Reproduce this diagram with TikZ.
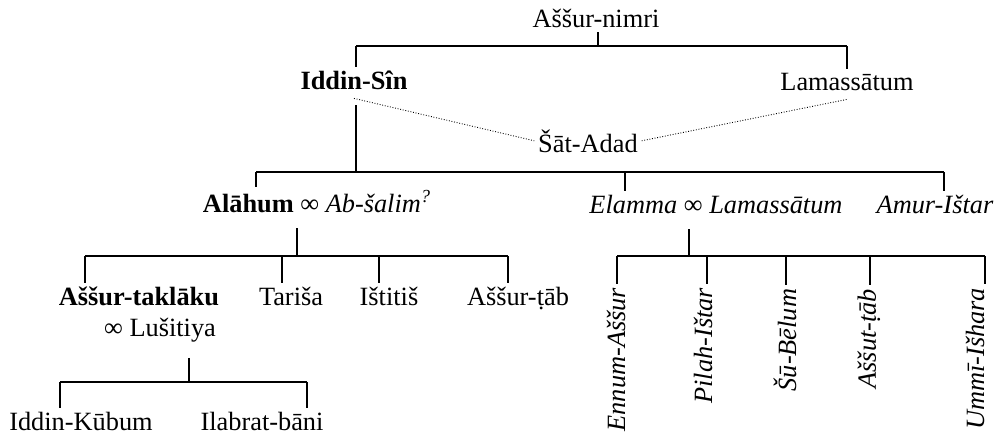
\documentclass[tikz,border=0pt]{standalone}
\usepackage{fontspec}
\setmainfont{Liberation Serif}

\begin{document}
\begin{tikzpicture}[x=0.02cm, y=-0.02cm,
    every node/.style={font=\fontsize{15}{18}\selectfont, inner sep=2pt},
    person/.style={anchor=base},
    sideways/.style={rotate=90, anchor=east, font=\fontsize{15}{18}\selectfont\itshape},
    stem/.style={line width=0.9pt},
    kin/.style={densely dotted, line width=0.5pt}]

    \useasboundingbox (0,0) rectangle (997,436);

    %%% first generation
    \node[person] (nimri) at (596,28) {Aššur-nimri};
    \node[person] (iddin) at (354,89) {\textbf{Iddin-Sîn}};
    \node[person] (lamas) at (847,90) {Lamassātum};
    \node[person] (satadad) at (588,152) {Šāt-Adad};

    \coordinate (j1) at (598,46);
    \coordinate (iddin-up) at (356,46);
    \coordinate (lamas-up) at (847,46);
    \draw[stem] (nimri.south -| j1) -- (j1);
    \draw[stem] (iddin-up) -- (lamas-up);
    \foreach \c in {iddin,lamas}
        \draw[stem] (\c-up) -- (\c.north -| \c-up);

    \draw[kin] ([yshift=-3pt]iddin.south) -- (satadad.west);
    \draw[kin] (satadad.east) -- ([yshift=-3pt]lamas.south);

    %%% children of Iddin-Sin
    \node[person] (alahum) at (317,212) {\textbf{Alāhum} ∞ \textit{Ab-šalim}\textsuperscript{\textit{?}}};
    \node[person] (elamma) at (716,213) {\textit{Elamma} ∞ \textit{Lamassātum}};
    \node[person] (amur) at (935,213) {\textit{Amur-Ištar}};

    \coordinate (j2) at (356,172);
    \coordinate (alahum-up) at (256,172);
    \coordinate (elamma-up) at (625,172);
    \coordinate (amur-up) at (944,172);
    \draw[stem] ([yshift=-7pt]iddin.south -| j2) -- (j2);
    \draw[stem] (alahum-up) -- (amur-up);
    \foreach \c in {alahum,elamma,amur}
        \draw[stem] (\c-up) -- (\c.north -| \c-up);

    %%% children of Alahum
    \node[person] (taklaku) at (139,305) {\textbf{Aššur-taklāku}};
    \node[person] (lusitiya) at (160,336) {∞ Lušitiya};
    \node[person] (tarisa) at (291,305) {Tariša};
    \node[person] (istitis) at (389,305) {Ištitiš};
    \node[person] (assurtab) at (518,305) {Aššur-ṭāb};

    \coordinate (j3) at (297,256);
    \coordinate (taklaku-up) at (85,256);
    \coordinate (tarisa-up) at (282,256);
    \coordinate (istitis-up) at (379,256);
    \coordinate (assurtab-up) at (508,256);
    \draw[stem] ([yshift=-7pt]alahum.south -| j3) -- (j3);
    \draw[stem] (taklaku-up) -- (assurtab-up);
    \foreach \c in {taklaku,tarisa,istitis,assurtab}
        \draw[stem] (\c-up) -- (\c.north -| \c-up);

    %%% children of Elamma
    \node[sideways] (ennum) at (616,284) {Ennum-Aššur};
    \node[sideways] (pilah) at (703,284) {Pilah-Ištar};
    \node[sideways] (subelum) at (785,285) {Šū-Bēlum};
    \node[sideways] (assut) at (869,285) {Aššut-ṭāb};
    \node[sideways] (ummi) at (975,284) {Ummī-Išhara};

    \coordinate (j4) at (689,256);
    \coordinate (ennum-up) at (617,256);
    \coordinate (pilah-up) at (707,256);
    \coordinate (subelum-up) at (786,256);
    \coordinate (assut-up) at (870,256);
    \coordinate (ummi-up) at (985,256);
    \draw[stem] ([yshift=-7pt]elamma.south -| j4) -- (j4);
    \draw[stem] (ennum-up) -- (ummi-up);
    \foreach \c in {ennum,pilah,subelum,assut,ummi}
        \draw[stem] (\c-up) -- (\c.east -| \c-up);

    %%% children of Assur-taklaku
    \node[person] (kubum) at (81,430) {Iddin-Kūbum};
    \node[person] (ilabrat) at (262,430) {Ilabrat-bāni};

    \coordinate (j5) at (189,382);
    \coordinate (kubum-up) at (60,382);
    \coordinate (ilabrat-up) at (307,382);
    \draw[stem] ([yshift=-7pt]lusitiya.south -| j5) -- (j5);
    \draw[stem] (kubum-up) -- (ilabrat-up);
    \foreach \c in {kubum,ilabrat}
        \draw[stem] (\c-up) -- (\c.north -| \c-up);

\end{tikzpicture}
\end{document}
